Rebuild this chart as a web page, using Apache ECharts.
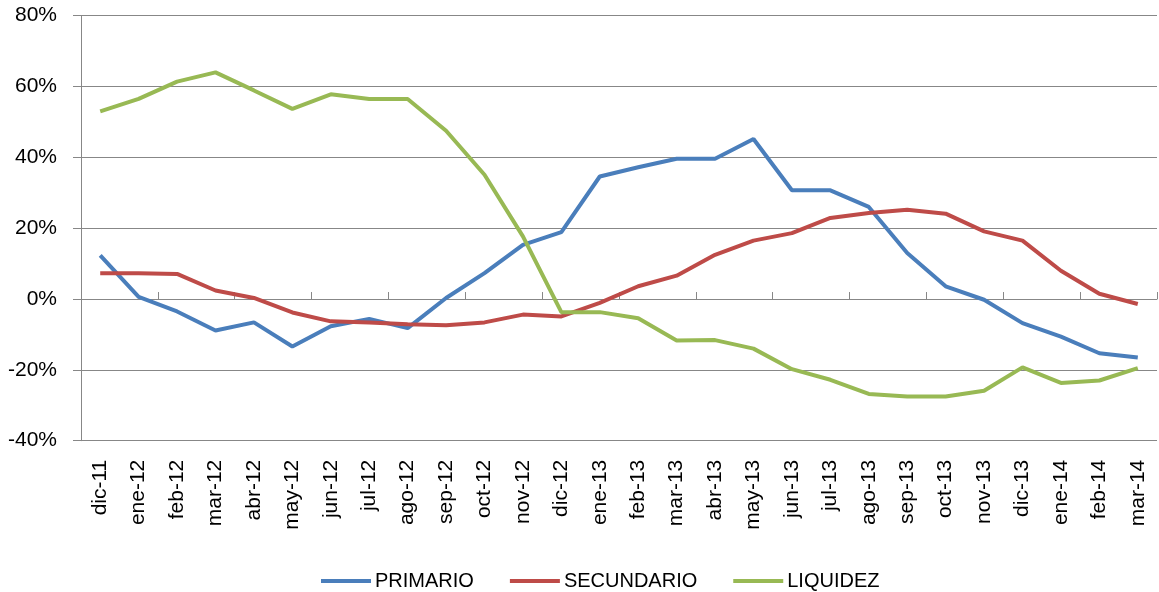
<!DOCTYPE html>
<html>
<head>
<meta charset="utf-8">
<script src="https://cdn.jsdelivr.net/npm/echarts@6/dist/echarts.min.js"></script>
<style>
  html, body { margin: 0; padding: 0; background: #fff; }
  #chart { width: 1159px; height: 592px; }
</style>
</head>
<body>
<div id="chart"></div>
<script>
// datos
var meses = ['dic-11', 'ene-12', 'feb-12', 'mar-12', 'abr-12', 'may-12', 'jun-12', 'jul-12', 'ago-12', 'sep-12',
  'oct-12', 'nov-12', 'dic-12', 'ene-13', 'feb-13', 'mar-13', 'abr-13', 'may-13', 'jun-13', 'jul-13',
  'ago-13', 'sep-13', 'oct-13', 'nov-13', 'dic-13', 'ene-14', 'feb-14', 'mar-14'];
var primario = [12.3, 0.6, -3.5, -8.9, -6.6, -13.4, -7.7, -5.6, -8.2, 0.3,
  7.3, 15.3, 18.9, 34.6, 37.2, 39.6, 39.6, 45.2, 30.7, 30.7,
  26.0, 13.0, 3.6, -0.2, -6.8, -10.6, -15.3, -16.5];
var secundario = [7.3, 7.3, 7.1, 2.4, 0.3, -3.8, -6.3, -6.6, -7.1, -7.4,
  -6.6, -4.4, -4.9, -1.1, 3.6, 6.6, 12.5, 16.5, 18.6, 22.9,
  24.3, 25.2, 24.1, 19.1, 16.5, 8.0, 1.5, -1.4];
var liquidez = [53.0, 56.5, 61.4, 64.0, 58.9, 53.7, 57.8, 56.5, 56.5, 47.5,
  35.1, 17.7, -3.7, -3.7, -5.4, -11.7, -11.6, -14.0, -19.8, -22.8,
  -26.8, -27.5, -27.5, -25.9, -19.3, -23.7, -23.0, -19.5];
var yTicks = [-40, -20, 0, 20, 40, 60, 80];

var chart = echarts.init(document.getElementById('chart'));
var gris = '#878787';
var fuente = '"Liberation Sans", Arial, sans-serif';

var option = {
  animation: false,
  textStyle: { fontFamily: fuente },
  grid: { left: 81, right: 2, top: 15.7, bottom: 151.3, containLabel: false },
  legend: {
    top: 566,
    left: 316,
    itemWidth: 50,
    itemHeight: 4,
    itemGap: 36,
    icon: 'rect',
    textStyle: { fontSize: 20, color: '#000', fontFamily: fuente, padding: [0, 0, 0, -1] },
    data: ['PRIMARIO', 'SECUNDARIO', 'LIQUIDEZ']
  },
  xAxis: [{
    type: 'category',
    data: meses,
    position: 'bottom',
    axisLine: { show: false, onZero: false },
    axisTick: { show: false },
    axisLabel: { rotate: 90, fontSize: 21, color: '#000', margin: 19, interval: 0 }
  }, {
    type: 'category',
    data: meses,
    axisLine: { show: true, onZero: true, lineStyle: { color: gris, width: 1 } },
    axisTick: { show: true, length: 7, lineStyle: { color: gris } },
    axisLabel: { show: false }
  }],
  yAxis: {
    type: 'value',
    min: yTicks[0],
    max: yTicks[yTicks.length - 1],
    interval: 20,
    axisLine: { show: true, lineStyle: { color: gris, width: 1 } },
    axisTick: { show: true, length: 8, lineStyle: { color: gris } },
    axisLabel: { fontSize: 21, color: '#000', margin: 24, formatter: '{value}%' },
    splitLine: { show: true, lineStyle: { color: gris, width: 1 } }
  },
  series: [{
    name: 'PRIMARIO',
    type: 'line',
    data: primario,
    symbol: 'none',
    lineStyle: { width: 4, color: '#4A7EBB' },
    itemStyle: { color: '#4A7EBB' }
  }, {
    name: 'SECUNDARIO',
    type: 'line',
    data: secundario,
    symbol: 'none',
    lineStyle: { width: 4, color: '#BE4B48' },
    itemStyle: { color: '#BE4B48' }
  }, {
    name: 'LIQUIDEZ',
    type: 'line',
    data: liquidez,
    symbol: 'none',
    lineStyle: { width: 4, color: '#98B954' },
    itemStyle: { color: '#98B954' }
  }]
};
chart.setOption(option);
</script>
</body>
</html>
